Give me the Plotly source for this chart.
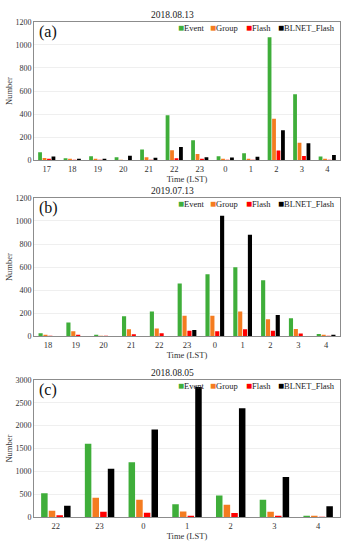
import plotly.graph_objects as go

# ---------------- data ----------------
series_names = ["Event", "Group", "Flash", "BLNET_Flash"]
series_colors = ["#3fae3a", "#f47c20", "#ff0000", "#000000"]

titles = ["2018.08.13", "2019.07.13", "2018.08.05"]
panel_labels = ["(a)", "(b)", "(c)"]

hours_a = ["17", "18", "19", "20", "21", "22", "23", "0", "1", "2", "3", "4"]
event_a = [70, 18, 35, 28, 95, 390, 175, 35, 62, 1065, 572, 33]
group_a = [20, 8, 12, 2, 27, 88, 55, 15, 10, 360, 153, 10]
flash_a = [8, 2, 3, 0, 6, 18, 12, 3, 3, 85, 38, 3]
blnet_a = [33, 13, 10, 40, 22, 117, 28, 25, 32, 260, 148, 47]

hours_b = ["18", "19", "20", "21", "22", "23", "0", "1", "2", "3", "4"]
event_b = [28, 120, 12, 175, 217, 458, 538, 600, 487, 157, 22]
group_b = [12, 45, 4, 62, 70, 180, 180, 217, 148, 65, 8]
flash_b = [3, 15, 1, 20, 28, 50, 45, 62, 50, 25, 2]
blnet_b = [0, 0, 0, 0, 0, 55, 1045, 880, 185, 0, 12]

hours_c = ["22", "23", "0", "1", "2", "3", "4"]
event_c = [525, 1605, 1205, 290, 480, 385, 35]
group_c = [145, 430, 385, 130, 275, 125, 20]
flash_c = [50, 125, 105, 38, 95, 35, 5]
blnet_c = [255, 1060, 1915, 2840, 2380, 880, 245]

y_max = [1200, 1200, 3000]
y_dtick = [200, 200, 500]

panels = [
    (hours_a, [event_a, group_a, flash_a, blnet_a]),
    (hours_b, [event_b, group_b, flash_b, blnet_b]),
    (hours_c, [event_c, group_c, flash_c, blnet_c]),
]

# ---------------- layout geometry (pixels) ----------------
W, H = 344, 550
x_left, x_right = 34, 340
plot_tops = [18, 197, 382]
plot_bottoms = [159, 338, 522]
legend_x = [177, 209, 245, 277]

FONT = "Liberation Serif"
fig = go.Figure()
annotations = []
layout_axes = {}

for i, (cats, vals) in enumerate(panels):
    xa = "x" if i == 0 else f"x{i+1}"
    ya = "y" if i == 0 else f"y{i+1}"
    for name, color, v in zip(series_names, series_colors, vals):
        fig.add_trace(go.Bar(
            x=cats, y=v, name=name, marker_color=color,
            marker_line_width=0, xaxis=xa, yaxis=ya, showlegend=False,
        ))
    top = plot_tops[i]
    bot = plot_bottoms[i]
    xkey = "xaxis" if i == 0 else f"xaxis{i+1}"
    ykey = "yaxis" if i == 0 else f"yaxis{i+1}"
    layout_axes[xkey] = dict(
        domain=[x_left / W, x_right / W], anchor=ya, type="category",
        showline=True, linecolor="#8c8c8c", linewidth=1, mirror=True,
        showgrid=False, ticks="", tickfont=dict(size=8.5, color="#333", family=FONT),
        title=dict(text="Time (LST)", font=dict(size=8.5, color="#333", family=FONT), standoff=2),
    )
    layout_axes[ykey] = dict(
        domain=[1 - bot / H, 1 - top / H], anchor=xa,
        range=[0, y_max[i]], dtick=y_dtick[i],
        showline=True, linecolor="#8c8c8c", linewidth=1, mirror=True,
        showgrid=True, gridcolor="#efefef", gridwidth=1, zeroline=False,
        ticks="", tickfont=dict(size=8, color="#333", family=FONT),
        title=dict(text="Number", font=dict(size=8.5, color="#333", family=FONT), standoff=1),
    )
    annotations.append(dict(
        text=titles[i], x=0.5, xref="paper", y=1 - (top - 7) / H, yref="paper",
        xanchor="center", yanchor="middle", showarrow=False,
        font=dict(size=9.5, color="#222", family=FONT),
    ))
    annotations.append(dict(
        text=panel_labels[i], x=37 / W, xref="paper", y=1 - (top + 10) / H, yref="paper",
        xanchor="left", yanchor="middle", showarrow=False,
        font=dict(size=16, color="#111", family=FONT),
    ))
    for lx, name, color in zip(legend_x, series_names, series_colors):
        annotations.append(dict(
            text=f'<span style="color:{color};font-size:10px">■</span>{name}',
            x=(lx - 1) / W, xref="paper", y=1 - (top + 5.5) / H, yref="paper",
            xanchor="left", yanchor="middle", showarrow=False,
            font=dict(size=8.5, color="#222", family=FONT),
        ))

fig.update_layout(
    width=W, height=H,
    margin=dict(l=0, r=0, t=0, b=0),
    paper_bgcolor="white", plot_bgcolor="white",
    barmode="group", bargap=0.3, bargroupgap=0.15,
    font=dict(family=FONT, size=8, color="#333"),
    annotations=annotations,
    **layout_axes,
)

fig.write_html(
    "out.html",
    config={"displayModeBar": False},
    post_script="document.body.style.margin='0';document.body.style.overflow='hidden';",
)
